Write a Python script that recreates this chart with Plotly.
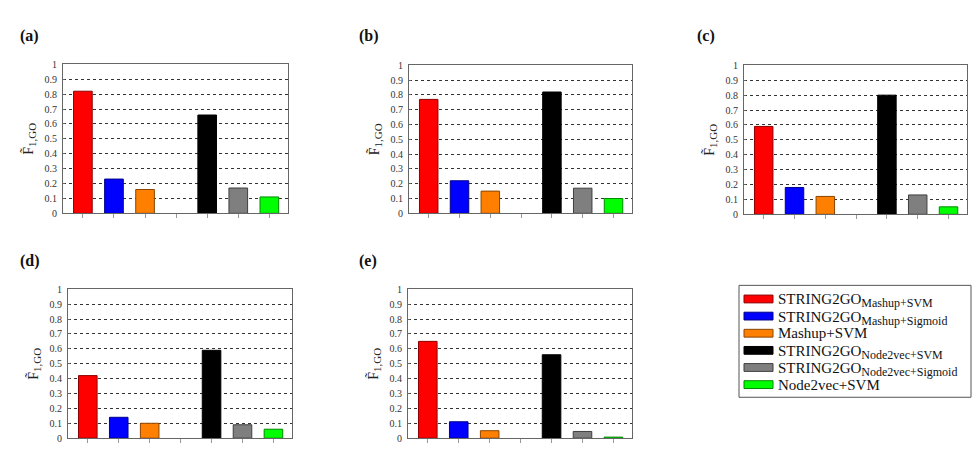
import plotly.graph_objects as go

W, H = 974, 450

methods = ["S2G_Mashup_SVM", "S2G_Mashup_Sigmoid", "Mashup_SVM",
           "S2G_Node2vec_SVM", "S2G_Node2vec_Sigmoid", "Node2vec_SVM"]
category_order = ["S2G_Mashup_SVM", "S2G_Mashup_Sigmoid", "Mashup_SVM", "gap",
                  "S2G_Node2vec_SVM", "S2G_Node2vec_Sigmoid", "Node2vec_SVM"]
legend_main = ["STRING2GO", "STRING2GO", "Mashup+SVM", "STRING2GO", "STRING2GO", "Node2vec+SVM"]
legend_sub = ["Mashup+SVM", "Mashup+Sigmoid", "", "Node2vec+SVM", "Node2vec+Sigmoid", ""]
colors = ["#ff0000", "#0000ff", "#ff7f00", "#000000", "#7f7f7f", "#00ff00"]
edge_colors = ["#8a0000", "#00008a", "#8a4500", "#000000", "#3f3f3f", "#008a00"]

panel_names = ["(a)", "(b)", "(c)", "(d)", "(e)"]
values_a = [0.82, 0.23, 0.16, 0.66, 0.17, 0.11]
values_b = [0.77, 0.22, 0.15, 0.82, 0.17, 0.10]
values_c = [0.59, 0.18, 0.12, 0.80, 0.13, 0.05]
values_d = [0.42, 0.14, 0.10, 0.59, 0.09, 0.06]
values_e = [0.65, 0.11, 0.05, 0.56, 0.045, 0.007]
panel_values = [values_a, values_b, values_c, values_d, values_e]

ytick_vals = [0, 0.1, 0.2, 0.3, 0.4, 0.5, 0.6, 0.7, 0.8, 0.9, 1]
ytick_text = ["0", "0.1", "0.2", "0.3", "0.4", "0.5", "0.6", "0.7", "0.8", "0.9", "1"]

# plot-area pixel boxes (left, right, top, bottom)
boxes = [(63, 288, 60, 213), (409, 632, 61, 213), (744, 967, 61, 214),
         (68, 292, 291, 444), (408, 632, 291, 444)]
label_pos = [(18, 31), (357, 31), (695, 31), (18, 262), (357, 262)]

FONT = "'Liberation Serif', 'DejaVu Serif', serif"
fig = go.Figure()
layout = dict(width=W, height=H, margin=dict(l=0, r=0, t=0, b=0),
              paper_bgcolor="white", plot_bgcolor="white", showlegend=False,
              font=dict(family=FONT, color="#222"))
annotations = []
shapes = []

for i, (vals, box) in enumerate(zip(panel_values, boxes)):
    n = "" if i == 0 else str(i + 1)
    fig.add_trace(go.Bar(x=methods, y=vals, marker=dict(color=colors, line=dict(color=edge_colors, width=1)),
                         width=0.6, xaxis="x" + n, yaxis="y" + n, hoverinfo="y"))
    l, r, t, b = box
    layout["xaxis" + n] = dict(domain=[l / W, r / W], anchor="y" + n, type="category",
                               categoryorder="array", categoryarray=category_order,
                               range=[-0.64, 6.6], showticklabels=False, ticks="outside",
                               ticklen=4, tickcolor="#999", showgrid=False, zeroline=False,
                               showline=True, linecolor="#666", linewidth=1, mirror=True,
                               fixedrange=True)
    layout["yaxis" + n] = dict(domain=[1 - b / H, 1 - t / H], anchor="x" + n, range=[0, 1],
                               tickvals=ytick_vals, ticktext=ytick_text, ticks="inside", ticklen=2,
                               tickcolor="#666", tickfont=dict(size=10, color="#333", family=FONT),
                               showgrid=True, gridcolor="#333", griddash="dot", gridwidth=1,
                               zeroline=False, showline=True, linecolor="#666", linewidth=1,
                               mirror=True, ticklabelstandoff=3,
                               title=dict(text="F\u0303<sub><span style='font-size:11px'>1,GO</span></sub>",
                                          font=dict(size=14, family=FONT, color="#222"),
                                          standoff=7))
    lx, ly = label_pos[i]
    annotations.append(dict(text="<b>" + panel_names[i] + "</b>", x=lx / W, y=1 - ly / H,
                            xref="paper", yref="paper", xanchor="left", yanchor="middle",
                            showarrow=False, font=dict(size=16, family=FONT, color="#111")))

# manual legend
lg_l, lg_r, lg_t, lg_b = 739, 971, 287, 402
shapes.append(dict(type="rect", xref="paper", yref="paper", x0=lg_l / W, x1=lg_r / W,
                   y0=1 - lg_b / H, y1=1 - lg_t / H, line=dict(color="#555", width=1),
                   fillcolor="white"))
for k, (main, sub, c, ec) in enumerate(zip(legend_main, legend_sub, colors, edge_colors)):
    cy = 301 + k * 17.6
    shapes.append(dict(type="rect", xref="paper", yref="paper", x0=744 / W, x1=773 / W,
                       y0=1 - (cy + 4) / H, y1=1 - (cy - 4) / H, fillcolor=c,
                       line=dict(color=ec, width=1)))
    lab = main + ("<sub><span style='font-size:12px'>" + sub + "</span></sub>" if sub else "")
    annotations.append(dict(text=lab, x=776 / W, y=1 - (cy + (2 if sub else 0)) / H,
                            xref="paper", yref="paper",
                            xanchor="left", yanchor="middle", showarrow=False,
                            font=dict(size=15, family=FONT, color="#111")))

layout["annotations"] = annotations
layout["shapes"] = shapes
fig.update_layout(**layout)
fig.write_html("out.html")
